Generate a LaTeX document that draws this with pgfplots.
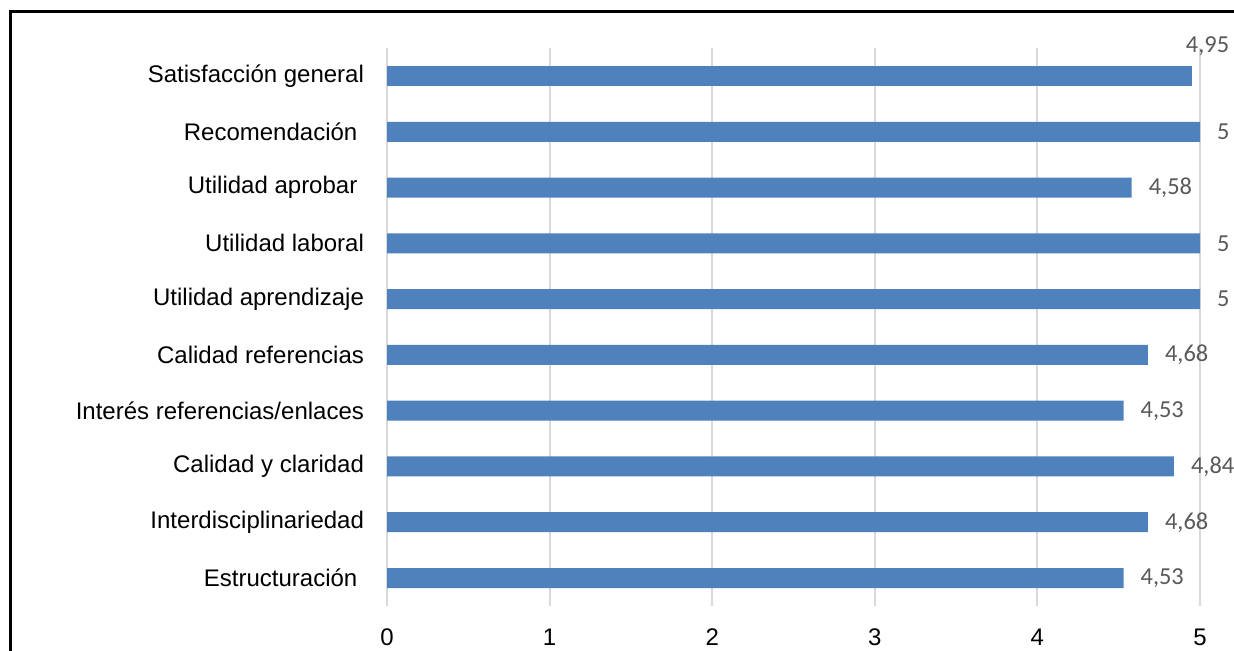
\documentclass[border=0pt]{standalone}
\usepackage{pgfplots}
\pgfplotsset{compat=1.18}
\usepackage{fontspec}
\setmainfont{Liberation Sans}
\newfontfamily\calibri{Carlito}
\definecolor{barblue}{RGB}{79,129,189}
\definecolor{gridgray}{RGB}{217,217,217}
\definecolor{lblgray}{RGB}{89,89,89}
\begin{document}
\begin{tikzpicture}
\useasboundingbox (0,0) rectangle (617pt,325pt);
\begin{axis}[
  at={(193.5pt,22.05pt)}, anchor=south west, scale only axis,
  width=406.5pt, height=278.9pt,
  xmin=0, xmax=5, ymin=0.5, ymax=10.5,
  xtick={0,1,2,3,4,5}, ytick={1,2,3,4,5,6,7,8,9,10},
  yticklabels={Estructuración\kern3.3pt,Interdisciplinariedad,Calidad y claridad,Interés referencias/enlaces,Calidad referencias,Utilidad aprendizaje,Utilidad laboral,Utilidad aprobar\kern3.3pt,Recomendación\kern3.3pt,Satisfacción general},
  xmajorgrids, major grid style={gridgray, line width=1pt},
  axis line style={draw=none},
  major tick length=0pt,
  tick label style={font=\fontsize{12}{14}\selectfont, black},
  xticklabel style={anchor=center, yshift=-15.5pt},
  yticklabel style={xshift=-8pt},
  /pgf/number format/assume math mode=true,
  /pgf/number format/use comma,
  xbar, bar width=10pt,
  nodes near coords,
  every node near coord/.append style={font=\calibri\fontsize{12.2}{14}\selectfont, text=lblgray, anchor=west, xshift=5pt},
]
\addplot[fill=barblue, draw=none, bar shift=0pt] coordinates {
  (4.53,1) (4.68,2) (4.84,3) (4.53,4) (4.68,5) (5,6) (5,7) (4.58,8) (5,9)
};
\addplot[fill=barblue, draw=none, bar shift=0pt,
  every node near coord/.style={font=\calibri\fontsize{12.2}{14}\selectfont, text=lblgray, anchor=west, xshift=-6.5pt, yshift=15pt}] coordinates {
  (4.95,10)
};
\end{axis}
\draw[black, line width=1.5pt] (5.25pt,-5pt) -- (5.25pt,319.25pt) -- (630pt,319.25pt);
\end{tikzpicture}
\end{document}
